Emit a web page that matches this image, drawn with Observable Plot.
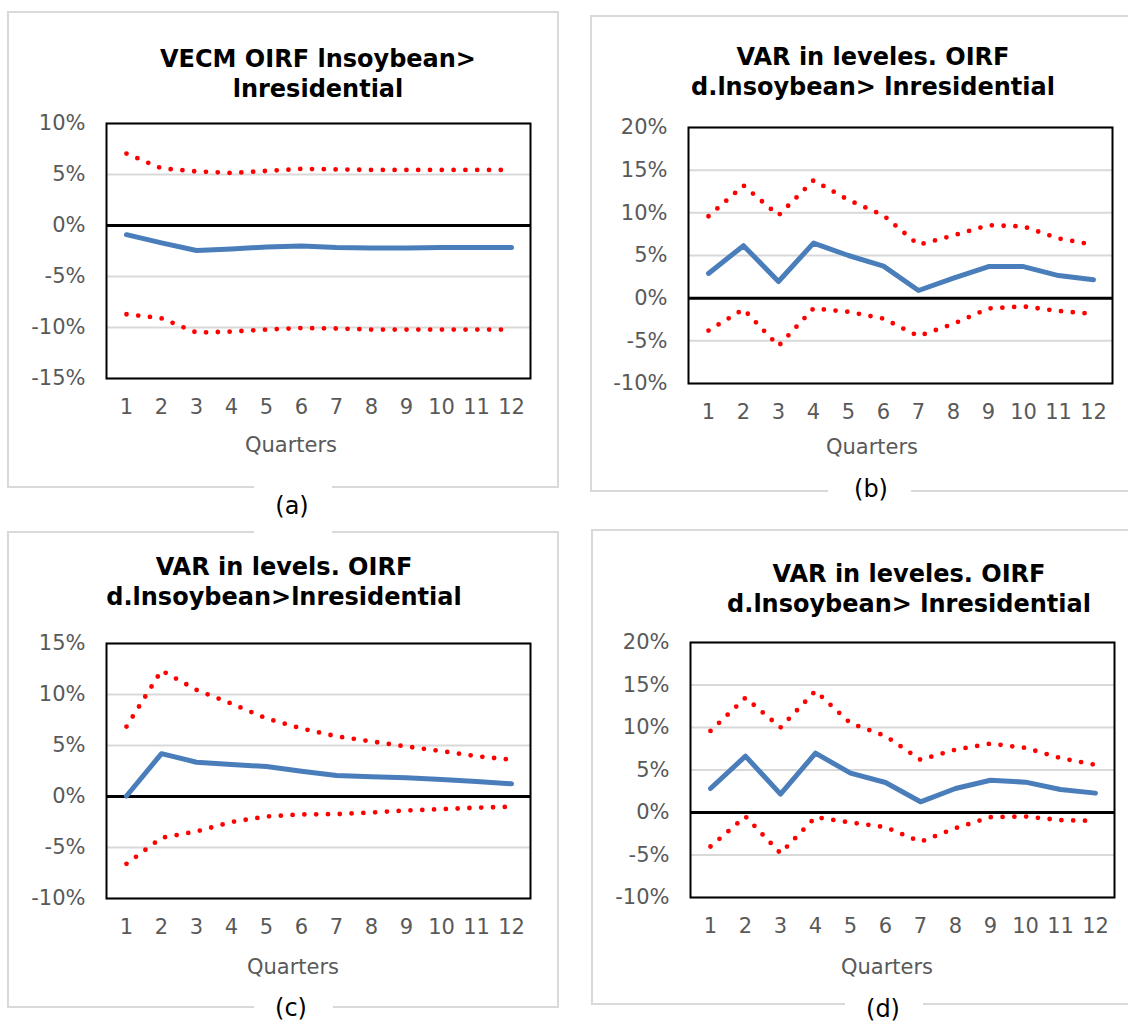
<!DOCTYPE html>
<html>
<head>
<meta charset="utf-8">
<script src="https://cdn.jsdelivr.net/npm/d3@7"></script>
<script src="https://cdn.jsdelivr.net/npm/@observablehq/plot@0.6"></script>
<style>
  html, body { margin: 0; padding: 0; background: #fff; }
  body { width: 1128px; height: 1023px; position: relative; overflow: hidden; font-family: "DejaVu Sans", Verdana, sans-serif; }
  .box { position: absolute; border: 2px solid #D9D9D9; box-sizing: border-box; }
  .title { position: absolute; width: 600px; text-align: center; font-weight: bold; font-size: 24px; line-height: 30px; color: #000; white-space: nowrap; }
  .xlab { position: absolute; width: 200px; text-align: center; font-size: 21px; line-height: 24px; color: #595959; }
  .cap { position: absolute; width: 100px; text-align: center; font-size: 24px; line-height: 28px; color: #000; }
  .gap { position: absolute; height: 8px; background: #fff; }
  .chart { position: absolute; }
</style>
</head>
<body>
<script>
// ---- data (percent) ----
const quarters = [1, 2, 3, 4, 5, 6, 7, 8, 9, 10, 11, 12];

// (a) VECM OIRF
const aIrf   = [-0.9, -1.7, -2.45, -2.3, -2.1, -2.0, -2.15, -2.2, -2.2, -2.15, -2.15, -2.15];
const aUpper = [7.05, 5.6, 5.3, 5.15, 5.35, 5.55, 5.5, 5.45, 5.45, 5.45, 5.45, 5.45];
const aLower = [-8.7, -9.1, -10.5, -10.4, -10.2, -10.05, -10.1, -10.2, -10.2, -10.2, -10.2, -10.2];

// (b) VAR in leveles
const bIrf   = [2.9, 6.15, 1.95, 6.45, 5.0, 3.75, 0.9, 2.35, 3.7, 3.7, 2.65, 2.15];
const bUpper = [9.6, 13.2, 9.7, 13.8, 11.5, 9.7, 6.25, 7.35, 8.55, 8.4, 7.0, 6.25];
const bLower = [-3.8, -1.3, -5.6, -1.2, -1.6, -2.4, -4.45, -3.0, -1.2, -0.97, -1.5, -1.85];

// (c) VAR in levels
const cIrf   = [0.05, 4.2, 3.36, 3.14, 2.94, 2.48, 2.06, 1.93, 1.83, 1.67, 1.47, 1.25];
const cUpper = [6.86, 12.35, 10.45, 9.1, 7.65, 6.67, 5.9, 5.4, 4.9, 4.45, 3.95, 3.6];
const cLower = [-6.6, -4.05, -3.43, -2.5, -1.96, -1.76, -1.73, -1.57, -1.37, -1.24, -1.1, -1.0];

// (d) VAR in leveles
const dIrf   = [2.82, 6.63, 2.16, 6.98, 4.63, 3.53, 1.26, 2.82, 3.8, 3.57, 2.7, 2.28];
const dUpper = [9.6, 13.5, 10.0, 14.3, 10.5, 9.0, 6.2, 7.4, 8.1, 7.6, 6.4, 5.6];
const dLower = [-4.0, -0.47, -4.8, -0.55, -1.18, -1.72, -3.45, -1.84, -0.55, -0.47, -0.9, -0.98];

const titles = {
  a: ["VECM OIRF lnsoybean>", "lnresidential"],
  b: ["VAR in leveles. OIRF", "d.lnsoybean> lnresidential"],
  c: ["VAR in levels. OIRF", "d.lnsoybean>lnresidential"],
  d: ["VAR in leveles. OIRF", "d.lnsoybean> lnresidential"]
};
const captions = {a: "(a)", b: "(b)", c: "(c)", d: "(d)"};
const xTitle = "Quarters";

// ---- layout helpers ----
function el(tag, cls, style, html) {
  const e = document.createElement(tag);
  if (cls) e.className = cls;
  Object.assign(e.style, style);
  if (html != null) e.textContent = html;
  document.body.appendChild(e);
  return e;
}
const rows = arr => quarters.map((q, i) => ({q, v: arr[i]}));

function panel(p) {
  const ticks = d3.range(p.domain[0], p.domain[1] + 0.001, 5);
  const chart = Plot.plot({
    width: p.width, height: p.height,
    marginLeft: p.mL, marginRight: p.mR, marginTop: p.mT, marginBottom: p.mB,
    style: {fontFamily: "DejaVu Sans", fontSize: "21px", color: "#595959", background: "transparent", overflow: "visible"},
    x: {type: "point", domain: quarters, padding: 0.5},
    y: {domain: p.domain},
    marks: [
      Plot.gridY(ticks, {stroke: "#D9D9D9", strokeOpacity: 1, strokeWidth: 2}),
      Plot.ruleY([0], {stroke: "#000", strokeWidth: 3}),
      Plot.line(rows(p.upper), {x: "q", y: "v", stroke: "#FF0000", strokeWidth: 4.8, strokeDasharray: "0 11.8", strokeLinecap: "round"}),
      Plot.line(rows(p.lower), {x: "q", y: "v", stroke: "#FF0000", strokeWidth: 4.8, strokeDasharray: "0 11.8", strokeLinecap: "round"}),
      Plot.line(rows(p.irf), {x: "q", y: "v", stroke: "#4A7EBB", strokeWidth: 5, strokeLinecap: "round", strokeLinejoin: "round"}),
      Plot.frame({stroke: "#000", strokeWidth: 2}),
      Plot.axisY(ticks, {tickSize: 0, tickPadding: 21, tickFormat: d => d + "%", fontSize: 21, fill: "#595959", label: null}),
      Plot.axisX({tickSize: 0, tickPadding: 21, fontSize: 21, fill: "#595959", label: null})
    ]
  });
  chart.classList.add("chart");
  chart.style.left = p.left + "px";
  chart.style.top = p.top + "px";
  document.body.appendChild(chart);
}

// ---- boxes ----
el("div", "box", {left: "7px", top: "11px", width: "552px", height: "477px"});
el("div", "box", {left: "590px", top: "15px", width: "560px", height: "477px"});
el("div", "box", {left: "7px", top: "531px", width: "552px", height: "477px"});
el("div", "box", {left: "591px", top: "529px", width: "560px", height: "476px"});

// ---- titles ----
function title(lines, cx, top) {
  const d = el("div", "title", {left: (cx - 300) + "px", top: top + "px"});
  d.innerHTML = lines.map(s => s.replace(/&/g, "&amp;").replace(/</g, "&lt;").replace(/>/g, "&gt;")).join("<br>");
}
title(titles.a, 318, 44);
title(titles.b, 873, 42);
title(titles.c, 284, 552);
title(titles.d, 909, 559);

// ---- charts ----
panel({irf: aIrf, upper: aUpper, lower: aLower, domain: [-15, 10], left: 0, top: 108, width: 560, height: 315, mL: 106, mR: 30, mT: 15, mB: 45});
panel({irf: bIrf, upper: bUpper, lower: bLower, domain: [-10, 20], left: 570, top: 112, width: 560, height: 316, mL: 118, mR: 18, mT: 15, mB: 45});
panel({irf: cIrf, upper: cUpper, lower: cLower, domain: [-10, 15], left: 0, top: 628, width: 560, height: 315, mL: 106, mR: 30, mT: 15, mB: 45});
panel({irf: dIrf, upper: dUpper, lower: dLower, domain: [-10, 20], left: 570, top: 627, width: 560, height: 315, mL: 120, mR: 16, mT: 15, mB: 45});

// ---- x titles ----
el("div", "xlab", {left: (291 - 100) + "px", top: "433px"}, xTitle);
el("div", "xlab", {left: (872 - 100) + "px", top: "435px"}, xTitle);
el("div", "xlab", {left: (293 - 100) + "px", top: "955px"}, xTitle);
el("div", "xlab", {left: (887 - 100) + "px", top: "955px"}, xTitle);

// ---- gaps in borders and captions ----
el("div", "gap", {left: "254px", width: "78px", top: "482px"});
el("div", "gap", {left: "828px", width: "83px", top: "486px"});
el("div", "gap", {left: "254px", width: "78px", top: "527px"});
el("div", "gap", {left: "254px", width: "79px", top: "1002px"});
el("div", "gap", {left: "845px", width: "78px", top: "999px"});

el("div", "cap", {left: (292 - 50) + "px", top: (514 - 22) + "px"}, captions.a);
el("div", "cap", {left: (871 - 50) + "px", top: (497 - 22) + "px"}, captions.b);
el("div", "cap", {left: (291 - 50) + "px", top: (1016 - 22) + "px"}, captions.c);
el("div", "cap", {left: (883 - 50) + "px", top: (1017 - 22) + "px"}, captions.d);
</script>
</body>
</html>
